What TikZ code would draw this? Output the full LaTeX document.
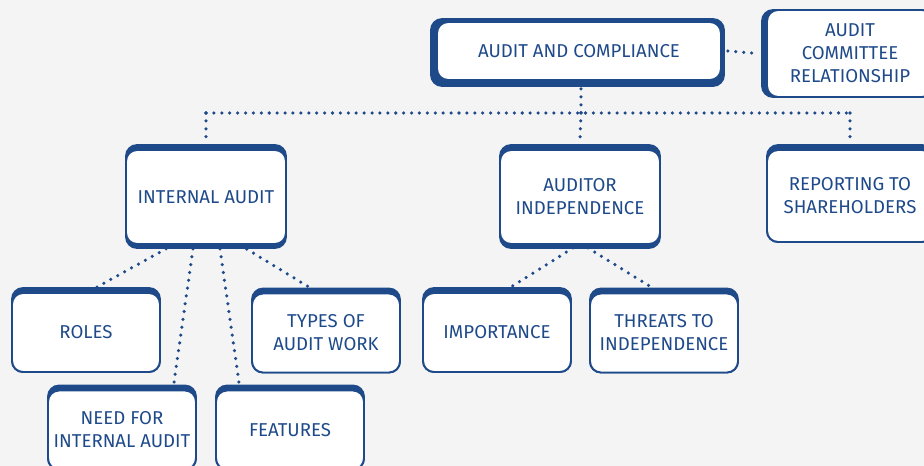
\documentclass[tikz,border=0pt]{standalone}
\usepackage{fontspec}
\setmainfont{Fira Sans}
\usetikzlibrary{positioning,calc,backgrounds}
\definecolor{navy}{HTML}{1F4A8A}
\definecolor{paper}{HTML}{F4F4F4}
\pgfdeclarelayer{plates}
\pgfsetlayers{background,plates,main}
% thick rim behind a box: node, left, bottom, right, top (in px)
\newcommand{\plate}[5]{%
  \begin{pgfonlayer}{plates}
    \fill[navy,rounded corners=12*0.02cm]
      ($(#1.north west)+(-#2,-#5)$) rectangle ($(#1.south east)+(#4,#3)$);
  \end{pgfonlayer}}

\begin{document}
\begin{tikzpicture}[x=0.02cm,y=-0.02cm,
  topic/.style={draw=navy,line width=1.1pt,fill=white,rounded corners=11*0.02cm,
    align=center,text=navy,font=\fontsize{10.6}{13.1}\selectfont,inner sep=0pt},
  big/.style={topic,minimum width=3.2cm,minimum height=1.88cm},
  small/.style={topic,minimum width=2.96cm,minimum height=1.58cm},
  dots/.style={navy,line width=2pt,line cap=round,dash pattern=on 0pt off 4.5pt}]
  \begin{pgfonlayer}{background}
    \fill[paper] (0,0) rectangle (924,466);
  \end{pgfonlayer}
  \useasboundingbox (0,0) rectangle (924,466);

  % top row
  \node[topic,minimum width=5.68cm,minimum height=1.16cm] (main) at (579,51) {AUDIT AND COMPLIANCE};
  \node[topic,minimum width=3.32cm,minimum height=1.74cm] (committee) at (850,53.5) {AUDIT\\COMMITTEE\\RELATIONSHIP};

  % second row
  \node[big] (internal) at (206,197) {INTERNAL AUDIT};
  \node[big] (independence) at (580,197) {AUDITOR\\INDEPENDENCE};
  \node[topic,minimum width=3.32cm,minimum height=1.84cm] (reporting) at (850,196) {REPORTING TO\\SHAREHOLDERS};

  % third row
  \node[small] (roles) at (86,332.5) {ROLES};
  \node[small] (types) at (326,333) {TYPES OF\\AUDIT WORK};
  \node[small] (importance) at (497,332.5) {IMPORTANCE};
  \node[small] (threats) at (664,333) {THREATS TO\\INDEPENDENCE};
  \node[small] (need) at (122,430) {NEED FOR\\INTERNAL AUDIT};
  \node[small] (features) at (290,430) {FEATURES};

  % rims
  \plate{main}{6}{6}{3}{3}
  \plate{committee}{5}{0}{0}{0}
  \plate{internal}{0}{4}{0}{5}
  \plate{independence}{0}{4}{0}{5}
  \plate{reporting}{0}{0}{0}{5}
  \foreach \n in {roles,types,importance,threats,need,features}
    {\plate{\n}{0}{0}{0}{5}}

  % connectors
  \coordinate (bus) at (581,113);
  \draw[dots] ($(main.east)+(6,0)$) -- ($(committee.west)+(-8,0)$);
  \draw[dots] ($(main.south -| bus)+(0,8)$) -- (bus);
  \draw[dots] (bus -| internal) -- (bus -| reporting);
  \draw[dots] (bus -| internal) -- ($(internal.north)+(0,-8)$);
  \draw[dots] (bus) -- ($(independence.north)+(0,-8)$);
  \draw[dots] (bus -| reporting) -- ($(reporting.north)+(0,-8)$);
  \draw[dots] ($(internal.south)+(-33,0)$) -- ($(roles.north)+(2,0)$);
  \draw[dots] ($(internal.south)+(-13,4)$) -- ($(need.north)+(51,0)$);
  \draw[dots] ($(internal.south)+(14,4)$) -- ($(features.north)+(-50,0)$);
  \draw[dots] ($(internal.south)+(34,0)$) -- ($(types.north)+(-8,0)$);
  \draw[dots] ($(independence.south)+(-7,3)$) -- ($(importance.north)+(6,0)$);
  \draw[dots] ($(independence.south)+(8,3)$) -- ($(threats.north)+(-4,0)$);
\end{tikzpicture}
\end{document}
